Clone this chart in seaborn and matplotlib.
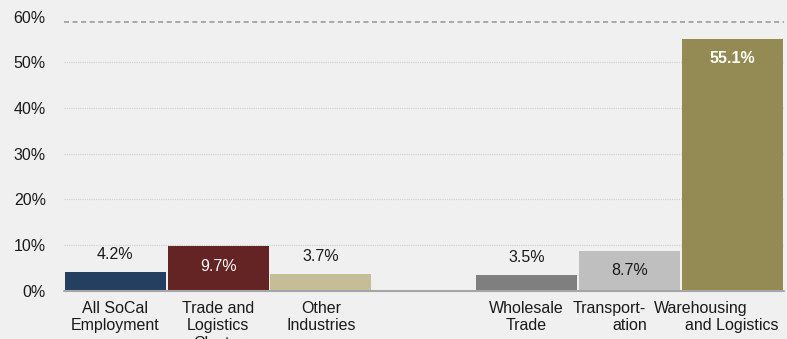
import numpy as np
import pandas as pd
import seaborn as sns
import matplotlib.pyplot as plt

# Employment growth by industry group (spacer slot separates the two groups)
categories = [
    "All SoCal\nEmployment",
    "Trade and\nLogistics\nCluster",
    "Other\nIndustries",
    " ",
    "Wholesale\nTrade",
    "Transport-\nation",
    "Warehousing\nand Logistics",
]
values = [4.2, 9.7, 3.7, np.nan, 3.5, 8.7, 55.1]
y_ticks = [0, 10, 20, 30, 40, 50, 60]

# Styling
bar_colors = ["#243f60", "#632423", "#c4bd97", "#f0f0f0", "#7f7f7f", "#bfbfbf", "#948a54"]
label_inside = [False, True, False, False, False, True, True]
label_colors = ["#1a1a1a", "#ffffff", "#1a1a1a", "#1a1a1a", "#1a1a1a", "#1a1a1a", "#ffffff"]
label_bold = [False, False, False, False, False, False, True]
first_line_shift_px = {5: -20, 6: -31}

BG = "#f0f0f0"
PX = 0.72  # points per pixel at 100 dpi
FS = 11.5

sns.set_theme(style="white")
plt.rcParams["font.family"] = ["Liberation Sans", "DejaVu Sans"]

df = pd.DataFrame({"category": categories, "value": values})

fig = plt.figure(figsize=(7.87, 3.39), dpi=100, facecolor=BG)
ax = fig.add_axes([0.0812, 0.1425, 0.9145, 0.8086])
ax.set_facecolor(BG)

sns.barplot(
    data=df, x="category", y="value", hue="category",
    order=categories, hue_order=categories,
    palette=dict(zip(categories, bar_colors)),
    width=0.982, saturation=1, linewidth=0, legend=False, ax=ax, zorder=2,
)

ax.set_xlim(-0.5, len(categories) - 0.5)
ax.set_ylim(0, 60)

# Gridlines
for t in y_ticks[1:-1]:
    ax.axhline(t, color="#d2d2d2", lw=0.9, ls=(0, (1, 0.8)), zorder=0.5)
ax.axhline(58.9, color="#a8a8a8", lw=1.4, ls=(0, (2.6, 1.8)), zorder=0.5, clip_on=False)
ax.axhline(0, color="#a6a6a6", lw=1.5, zorder=3, clip_on=False)

for s in ax.spines.values():
    s.set_visible(False)

ax.set_yticks(y_ticks)
ax.set_yticklabels([f"{t}%" for t in y_ticks], fontsize=FS, color="#1a1a1a")
ax.tick_params(axis="y", length=0, pad=13)
ax.set_xticks(range(len(categories)))
ax.set_xticklabels([""] * len(categories))
ax.tick_params(axis="x", length=0)
ax.set_xlabel("")
ax.set_ylabel("")

# Category labels, one line at a time
for i, cat in enumerate(categories):
    for j, line in enumerate(cat.split("\n")):
        if not line.strip():
            continue
        dx = first_line_shift_px.get(i, 0) if j == 0 else 0
        ax.annotate(
            line, xy=(i, 0), xycoords="data",
            xytext=(dx * PX, -(22.3 + j * 17.4) * PX), textcoords="offset points",
            ha="center", va="baseline", fontsize=FS, color="#1a1a1a",
            annotation_clip=False,
        )

# Value labels
for i, v in enumerate(values):
    if np.isnan(v):
        continue
    off = -20 if label_inside[i] else 17
    ax.annotate(
        f"{v:.1f}%", xy=(i, v), xycoords="data",
        xytext=(0, off * PX), textcoords="offset points",
        ha="center", va="center", fontsize=FS, color=label_colors[i],
        fontweight="bold" if label_bold[i] else "normal",
        annotation_clip=False, zorder=4,
    )

fig.savefig("out.png", dpi=100, facecolor=BG)
